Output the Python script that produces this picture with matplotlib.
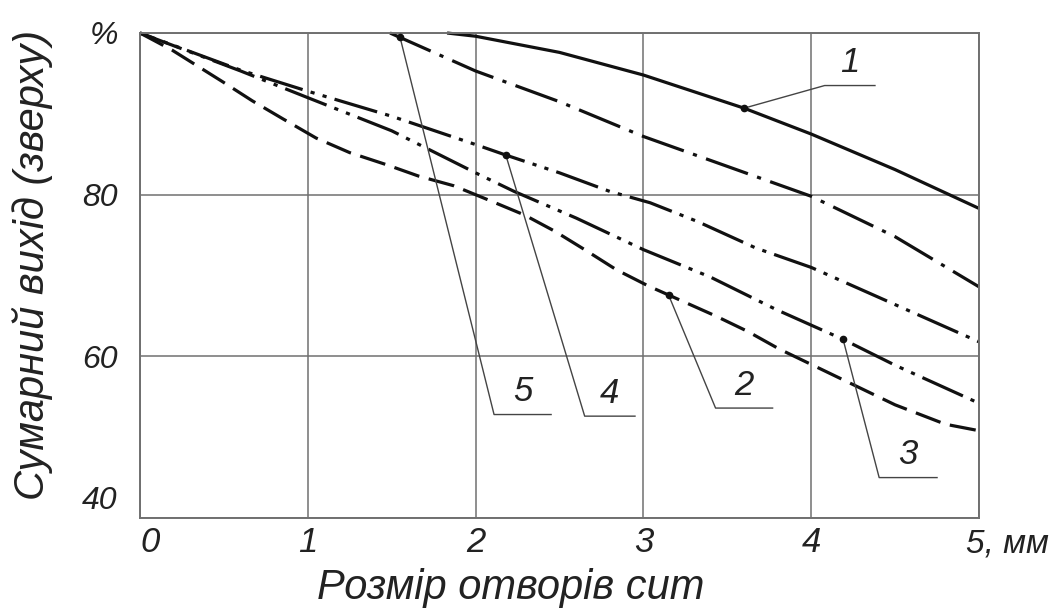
import numpy as np
import matplotlib
matplotlib.use("Agg")
import matplotlib.pyplot as plt
from matplotlib.transforms import ScaledTranslation

# curve readings (x in mm, y in %)
x1 = [1.83, 2.0, 2.5, 3.0, 3.6, 4.0, 4.5, 5.0]
y1 = [100.0, 99.6, 97.6, 94.8, 90.7, 87.5, 83.1, 78.3]

x2 = [0.0, 0.19, 0.49, 0.67, 0.85, 1.05, 1.25, 1.47, 1.66, 1.87, 2.07, 2.29, 2.47,
      2.65, 2.84, 3.03, 3.43, 3.62, 3.81, 4.0, 4.5, 4.8, 5.0]
y2 = [100.0, 97.9, 94.0, 91.6, 89.4, 87.0, 85.2, 83.7, 82.3, 81.1, 79.4, 77.5, 75.5,
      73.2, 70.7, 68.7, 65.0, 63.1, 60.9, 59.0, 54.0, 51.6, 50.8]

x3 = [0.0, 0.6, 1.0, 1.5, 2.0, 2.23, 2.6, 3.0, 3.4, 3.79, 4.19, 4.5, 5.0]
y3 = [100.0, 95.3, 92.0, 87.9, 82.7, 80.4, 77.1, 73.2, 69.8, 65.8, 62.1, 58.9, 54.2]

x4 = [0.0, 0.6, 1.0, 1.5, 2.0, 2.18, 2.5, 2.8, 3.04, 3.32, 3.67, 4.0, 4.5, 5.0]
y4 = [100.0, 95.4, 92.8, 89.7, 86.2, 84.9, 82.7, 80.4, 79.0, 76.7, 73.4, 71.0, 66.4, 61.8]

x5 = [1.49, 2.0, 2.5, 3.0, 3.5, 4.0, 4.5, 5.0]
y5 = [100.0, 95.3, 91.5, 87.2, 83.5, 79.8, 74.8, 68.6]

curve_labels = ["1", "2", "3", "4", "5"]
mark_x = [3.6, 3.15, 4.19, 2.18, 1.55]          # where the leader touches the curve
elbow_x = [4.08, 3.43, 4.405, 2.65, 2.11]
elbow_y = [93.5, 53.6, 45.0, 52.6, 52.8]
shelf_x = [4.38, 3.77, 4.75, 2.95, 2.45]

x_ticks = [0, 1, 2, 3, 4, 5]
x_ticklabels = ["0", "1", "2", "3", "4", ""]
y_ticks = [40, 60, 80, 100]
y_ticklabels = ["40", "60", "80", "%"]

plt.rcParams["lines.scale_dashes"] = False
FONT = ["Liberation Sans", "DejaVu Sans"]
txt_c = "#222222"

fig = plt.figure(figsize=(10.5, 6.13), dpi=100)
ax = fig.add_axes([140 / 1050, 1 - 518 / 613, (979 - 140) / 1050, (518 - 33) / 613])

grid_c = "#707070"
ax.set_xlim(0, 5)
ax.set_ylim(40, 100)
ax.set_xticks(x_ticks)
ax.set_yticks(y_ticks)
ax.grid(True, color=grid_c, lw=1.1)
ax.tick_params(length=0)
ax.tick_params(axis="x", pad=6)
ax.tick_params(axis="y", pad=16)
for sp in ax.spines.values():
    sp.set_color(grid_c)
    sp.set_linewidth(1.4)

ink = "#111111"
lw = 2.3
styles = [
    "-",
    (0, (19, 7)),
    (0, (32, 6, 3, 6, 3, 6)),
    (20, (32, 6, 3, 6, 3, 6)),
    (0, (32, 7, 3, 7)),
]
xs = [x1, x2, x3, x4, x5]
ys = [y1, y2, y3, y4, y5]
for xx, yy, ls in zip(xs, ys, styles):
    ax.plot(xx, yy, color=ink, lw=lw, linestyle=ls, solid_capstyle="butt",
            dash_capstyle="butt", solid_joinstyle="round", clip_on=False)

# leaders with numbers
lead_c = "#444444"
for i, lab in enumerate(curve_labels):
    mx = mark_x[i]
    my = np.interp(mx, xs[i], ys[i])
    ax.plot([mx], [my], "o", color=ink, ms=4.5, zorder=5)
    ax.plot([mx, elbow_x[i], shelf_x[i]], [my, elbow_y[i], elbow_y[i]],
            color=lead_c, lw=1.0)
    ax.text((elbow_x[i] + shelf_x[i]) / 2, elbow_y[i] + 0.8, lab,
            family=FONT, style="italic", fontsize=25, color=txt_c,
            ha="center", va="bottom")

ax.set_xticklabels(x_ticklabels, family=FONT, style="italic", fontsize=25, color=txt_c)
ax.set_yticklabels(y_ticklabels, family=FONT, style="italic", fontsize=23, color=txt_c)
# nudge the corner labels like in the drawing
xl0 = ax.get_xticklabels()[0]
xl0.set_transform(xl0.get_transform() + ScaledTranslation(0.1, 0, fig.dpi_scale_trans))
yl40 = ax.get_yticklabels()[0]
yl40.set_transform(yl40.get_transform() + ScaledTranslation(0, 0.2, fig.dpi_scale_trans))

ax.annotate("5, мм", xy=(5, 40), xytext=(-9, -7.5), textcoords="offset points",
            ha="left", va="top", family=FONT, style="italic", fontsize=24,
            color=txt_c, annotation_clip=False)

fig.text(511 / 1050, 1 - 588 / 613, "Розмір отворів сит", family=FONT, style="italic",
         fontsize=30, color=txt_c, ha="center", va="center")
fig.text(32 / 1050, 1 - 265 / 613, "Сумарний вихід (зверху)", family=FONT, style="italic",
         fontsize=30, color=txt_c, ha="center", va="center", rotation=90)

fig.savefig("out.png", dpi=100)
